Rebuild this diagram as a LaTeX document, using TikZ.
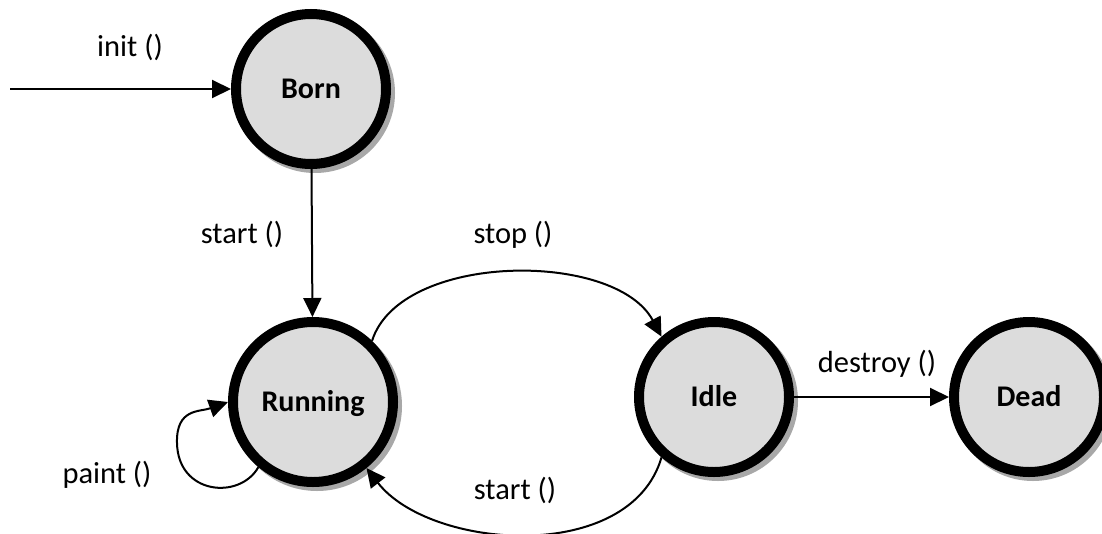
\documentclass[tikz,border=0pt]{standalone}
\usepackage{fontspec}
\setmainfont{Carlito}
\usetikzlibrary{arrows.meta}
\definecolor{statefill}{HTML}{DCDCDC}
\definecolor{shadowc}{HTML}{A8A8A8}
\begin{document}
\begin{tikzpicture}[x=1pt,y=-1pt,
  state/.style={circle, draw=black, line width=10pt, fill=statefill,
    minimum size=150pt, inner sep=0pt,
    font=\fontsize{30}{36}\selectfont\bfseries, text height=19pt, text depth=0pt,
    preaction={draw=shadowc, fill=shadowc, line width=10pt,
      transform canvas={xshift=4pt,yshift=-4pt}}},
  conn/.style={line width=2pt, -{Triangle[length=19pt,width=18pt]}},
  lbl/.style={anchor=base, font=\fontsize{30.5}{36}\selectfont, inner sep=0pt}]
\useasboundingbox (0,0) rectangle (1102,533);
\node[state] (born) at (311,89) {Born};
\node[state, minimum size=160pt] (running) at (313,402) {Running};
\node[state] (idle) at (714,397) {Idle};
\node[state] (dead) at (1029,397) {Dead};
\coordinate (initstart) at (10,89);
\draw[conn] (initstart) -- (born);
\draw[conn] (born) -- (running);
\draw[conn] (running.46) .. controls (400,252) and (615,250) .. (idle.131);
\draw[conn] (idle.-131) .. controls (630,565) and (430,550) .. (running.-51);
\draw[conn] (running.230) .. controls (240,500) and (178,495) .. (177,443)
  .. controls (176,408) and (200,412) .. (running.180);
\draw[conn] (idle) -- (dead);
\node[lbl] (linit) at (130,56) {init ()};
\node[lbl] (lstart1) at (242,243) {start ()};
\node[lbl] (lstop) at (513,243) {stop ()};
\node[lbl] (lstart2) at (515,499) {start ()};
\node[lbl] (lpaint) at (107,483) {paint ()};
\node[lbl] (ldestroy) at (877,372) {destroy ()};
\end{tikzpicture}
\end{document}
